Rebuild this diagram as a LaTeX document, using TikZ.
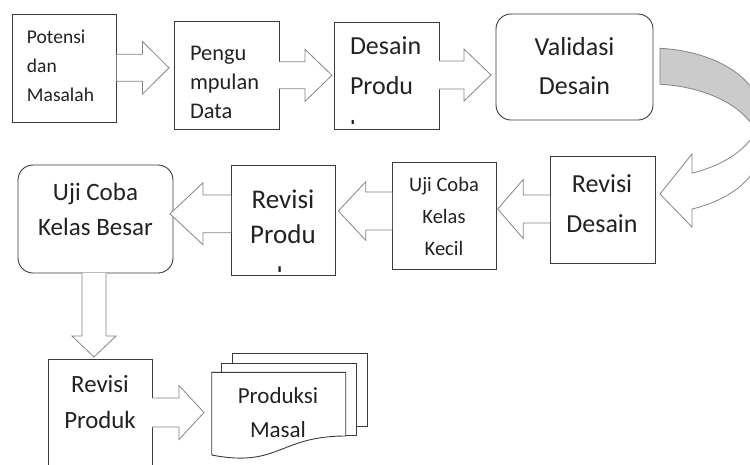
\documentclass[tikz,border=0pt]{standalone}
\usepackage{fontspec}
\setmainfont{Carlito}
\definecolor{boxline}{HTML}{3A3A3A}
\definecolor{arrline}{HTML}{858585}
\definecolor{arrfill}{HTML}{CBCBCB}
\definecolor{txt}{HTML}{222222}
\tikzset{
  box/.style={draw=boxline, line width=0.9pt, fill=white, inner sep=0pt, outer sep=0pt},
  rbox/.style={box, rounded corners=15pt},
  barrow/.style={draw=arrline, line width=0.8pt, fill=white, line join=miter},
  backarrow/.style={draw=arrline, line width=0.8pt, fill=arrfill},
  lbl/.style={inner sep=0pt, outer sep=0pt, text=txt, anchor=base},
}
% #1 start anchor, #2 centre y, #3 shaft half width, #4 head base x, #5 head half width, #6 tip x
\newcommand\harr[6]{%
  \draw[barrow] (#1 |- 0,{#2-#3}) -- (#4,{#2-#3}) -- (#4,{#2-#5}) -- (#6,#2)
    -- (#4,{#2+#5}) -- (#4,{#2+#3}) -- (#1 |- 0,{#2+#3});}
\begin{document}
\begin{tikzpicture}[x=1pt,y=-1pt]
\useasboundingbox (0,0) rectangle (750,464);
\clip (0,0) rectangle (750,464);

% boxes
\node[box,  minimum width=103.8pt, minimum height=108pt] (b1) at (64.6,68) {};
\node[box,  minimum width=104.5pt, minimum height=108pt] (b2) at (226.75,75) {};
\node[box,  minimum width=105pt,   minimum height=107pt] (b3) at (386.5,75.5) {};
\node[rbox, minimum width=157pt,   minimum height=106pt] (b4) at (574.5,67) {};
\node[box,  minimum width=105pt,   minimum height=107pt] (b5) at (602.5,209.5) {};
\node[box,  minimum width=104pt,   minimum height=107pt] (b6) at (444,215.5) {};
\node[box,  minimum width=104pt,   minimum height=110pt] (b7) at (283,220) {};
\node[rbox, minimum width=155pt,   minimum height=108pt] (b8) at (95.5,219) {};
\node[box,  minimum width=104pt,   minimum height=111pt] (b9) at (100,414.5) {};

% straight block arrows
\harr{b1.east}{67.8}{13.5}{142.5}{26.3}{169}
\harr{b2.east}{75.3}{13.5}{305}{26}{332}
\harr{b3.east}{75}{14}{464}{26}{491}
\harr{b5.west}{209}{14}{523.3}{29.6}{497.7}
\harr{b6.west}{211}{19}{365.7}{29.2}{338.3}
\harr{b7.west}{213.8}{18.9}{203}{31}{170}
\harr{b9.east}{412.5}{14.5}{179}{27}{204}
\draw[barrow] (82,0 |- b8.south) -- (82,336) -- (72,336) -- (94,357)
  -- (116,336) -- (106,336) -- (106,0 |- b8.south);

% curved arrow from Validasi Desain to Revisi Desain
\draw[backarrow] plot[domain=84.8:0, samples=40, variable=\t] ({650+110*cos(\t)},{113-65*sin(\t)})
  -- plot[domain=0:84.8, samples=40, variable=\t] ({650+110*cos(\t)},{149-65*sin(\t)}) -- cycle;
\draw[barrow] plot[domain=0:-67.55, samples=40, variable=\t] ({650+110*cos(\t)},{113-65*sin(\t)})
  -- (692,154) -- (660,194) -- (692,227)
  -- plot[domain=-67.55:0, samples=40, variable=\t] ({650+110*cos(\t)},{149-65*sin(\t)}) -- cycle;

% multidocument
\draw[box] (232.7,363.3) -- (232.7,353.3) -- (367.7,353.3) -- (367.7,426) -- (356.7,426);
\draw[box] (221.7,372.3) -- (221.7,363.3) -- (356.7,363.3) -- (356.7,435) -- (345.7,435);
\draw[box] (211.7,372.3) -- (345.7,372.3) -- (345.7,436)
  .. controls (278.7,436) and (278.7,468) .. (211.7,455) -- cycle;

% texts (anchor = baseline of the last line)
\node[lbl, anchor=base west, align=left, font=\fontsize{19.5pt}{29pt}\selectfont] (t1) at (27,101) {Potensi\\dan\\Masalah};
\node[lbl, anchor=base west, align=left, font=\fontsize{22.4pt}{28.8pt}\selectfont] (t2) at (190,118.1) {Pengu\\mpulan\\Data};
\begin{scope}
  \clip (334,22) rectangle (439,123.5);
  \node[lbl, anchor=base west, align=left, font=\fontsize{26pt}{40pt}\selectfont] (t3) at (350,138.5) {Desain\\Produ\\[4pt]k};
\end{scope}
\node[lbl, align=center, font=\fontsize{26pt}{39pt}\selectfont] (t4) at (574.5,94) {Validasi\\Desain};
\node[lbl, align=center, font=\fontsize{26pt}{40pt}\selectfont] (t5) at (602,232) {Revisi\\Desain};
\node[lbl, align=center, font=\fontsize{20.5pt}{32pt}\selectfont] (t6) at (444,255) {Uji Coba\\Kelas\\Kecil};
\begin{scope}
  \clip (231,165) rectangle (335,271);
  \node[lbl, align=center, font=\fontsize{27pt}{35pt}\selectfont] (t7) at (283,285.2) {Revisi\\Produ\\[7.2pt]k};
\end{scope}
\node[lbl, align=center, font=\fontsize{25pt}{35pt}\selectfont] (t8) at (95.5,235) {Uji Coba\\Kelas Besar};
\node[lbl, align=center, font=\fontsize{24.8pt}{36pt}\selectfont] (t9) at (100,428) {Revisi\\Produk};
\node[lbl, align=center, font=\fontsize{23pt}{34pt}\selectfont] (t10) at (278,437) {Produksi\\Masal};
\end{tikzpicture}
\end{document}
